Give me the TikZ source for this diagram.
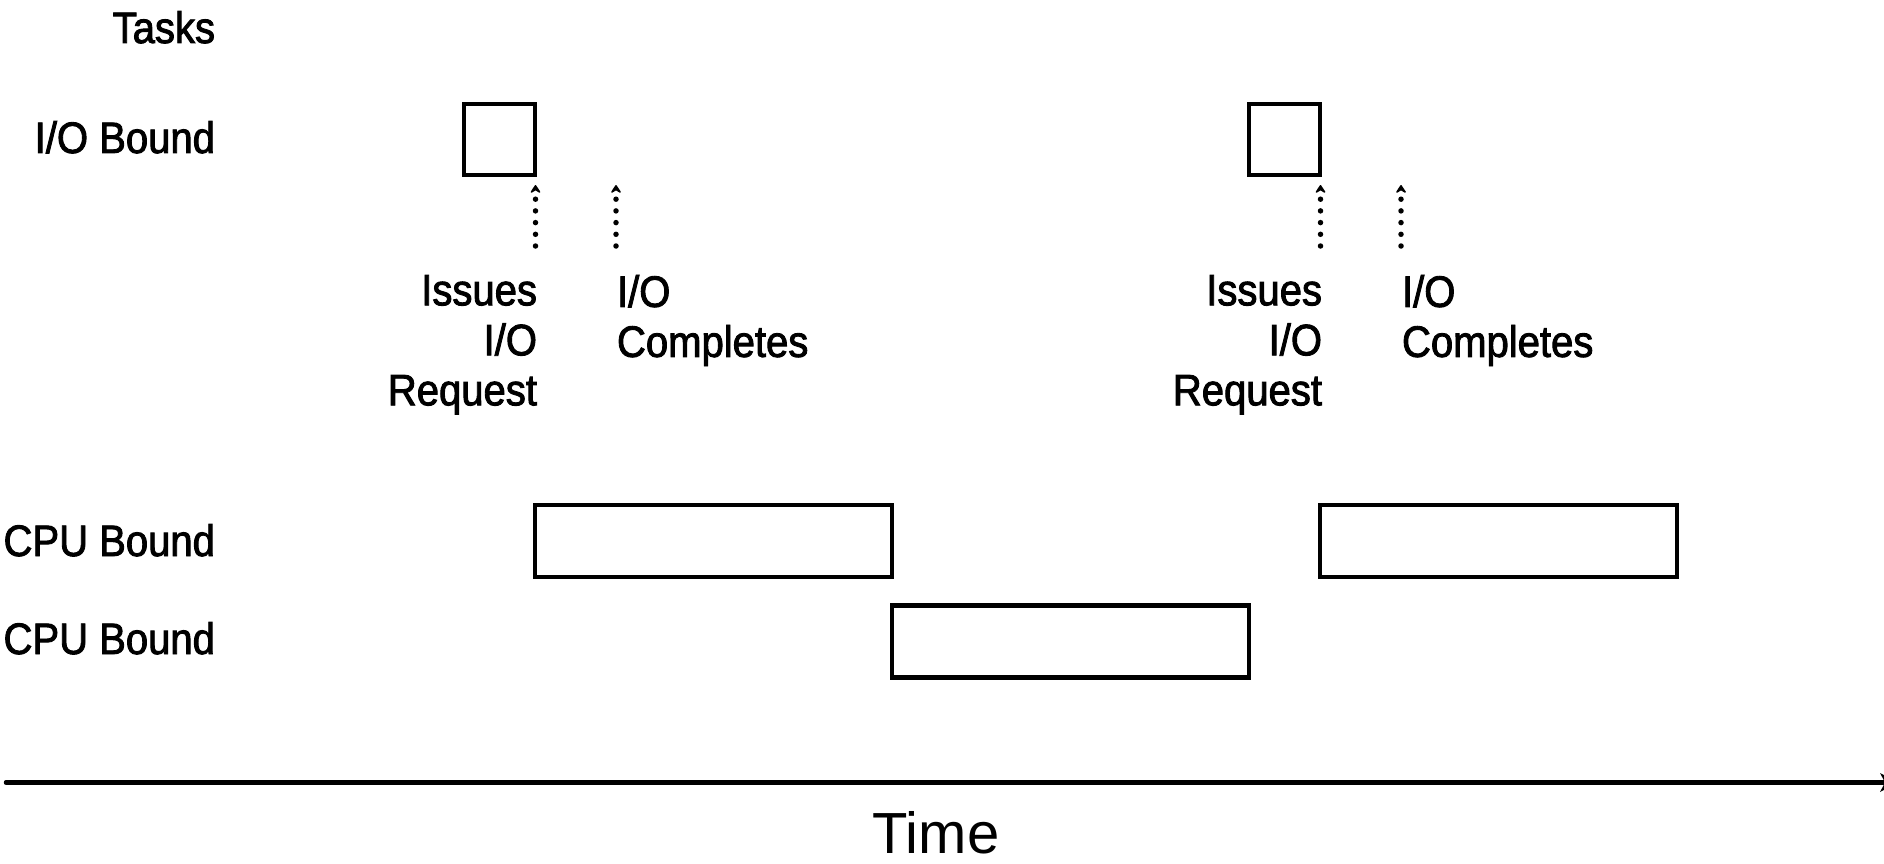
\documentclass[tikz,border=0pt]{standalone}
\usepackage{fontspec}
\setmainfont{Liberation Sans}[FakeStretch=0.91,FakeBold=2]
\newfontfamily\timefont{Liberation Sans}
\usetikzlibrary{arrows.meta}
\tikzset{
  lbl/.style={inner sep=0pt, outer sep=0pt, font=\fontsize{44}{50}\selectfont},
  taskbox/.style={draw=black, line width=4.5pt, inner sep=0pt, outer sep=0pt, fill=white},
  iobox/.style={taskbox, minimum width=71pt, minimum height=71pt},
  cpubox/.style={taskbox, minimum width=357pt, minimum height=72pt},
  dotarrow/.style={line width=5.5pt, line cap=round, dash pattern=on 0pt off 11.7pt,
    -{Stealth[width=13pt,length=10pt,inset=4pt,line width=2pt,round]}},
  axis/.style={line width=4.5pt, line cap=round, -{Stealth[width=19pt,length=18pt,inset=5pt,line width=0pt]}}
}
\begin{document}
\begin{tikzpicture}[x=1pt,y=-1pt]
\useasboundingbox (0,0) rectangle (1884,864);
% row labels
\node[lbl, anchor=base east] (tasks) at (215,43) {Tasks};
\node[lbl, anchor=base east] (iol) at (215,153) {I/O Bound};
\node[lbl, anchor=base east] (cpu1l) at (215,556) {CPU Bound};
\node[lbl, anchor=base east] (cpu2l) at (215,654) {CPU Bound};
% I/O boxes
\node[iobox] (io1) at (499.5,139.5) {};
\node[iobox] (io2) at (1284.5,139.5) {};
% CPU boxes
\node[cpubox] (c1a) at (713.5,541) {};
\node[cpubox] (c2) at (1070.5,641.5) {};
\node[cpubox] (c1b) at (1498.5,541) {};
% dotted arrows
\coordinate (r1s) at (535.5,246);
\coordinate (r1e) at (535.5,185);
\coordinate (d1s) at (616,246);
\coordinate (d1e) at (616,185);
\coordinate (r2s) at (1320.5,246);
\coordinate (r2e) at (1320.5,185);
\coordinate (d2s) at (1401,246);
\coordinate (d2e) at (1401,185);
\draw[dotarrow] (r1s) -- (r1e);
\draw[dotarrow] (d1s) -- (d1e);
\draw[dotarrow] (r2s) -- (r2e);
\draw[dotarrow] (d2s) -- (d2e);
% annotations
\node[lbl, align=right, anchor=north east] (req1) at (537,275) {Issues\hspace{13pt}\\I/O\\Request};
\node[lbl, align=left, anchor=north west] (cmp1) at (617,275) {I/O\\Completes};
\node[lbl, align=right, anchor=north east] (req2) at (1322,275) {Issues\hspace{13pt}\\I/O\\Request};
\node[lbl, align=left, anchor=north west] (cmp2) at (1402,275) {I/O\\Completes};
% time axis
\coordinate (t0) at (6,782.5);
\coordinate (t1) at (1898,782.5);
\draw[axis] (t0) -- (t1);
\node[inner sep=0pt, anchor=base, font=\timefont\fontsize{58}{60}\selectfont] (time) at (936,853) {Time};
\end{tikzpicture}
\end{document}
